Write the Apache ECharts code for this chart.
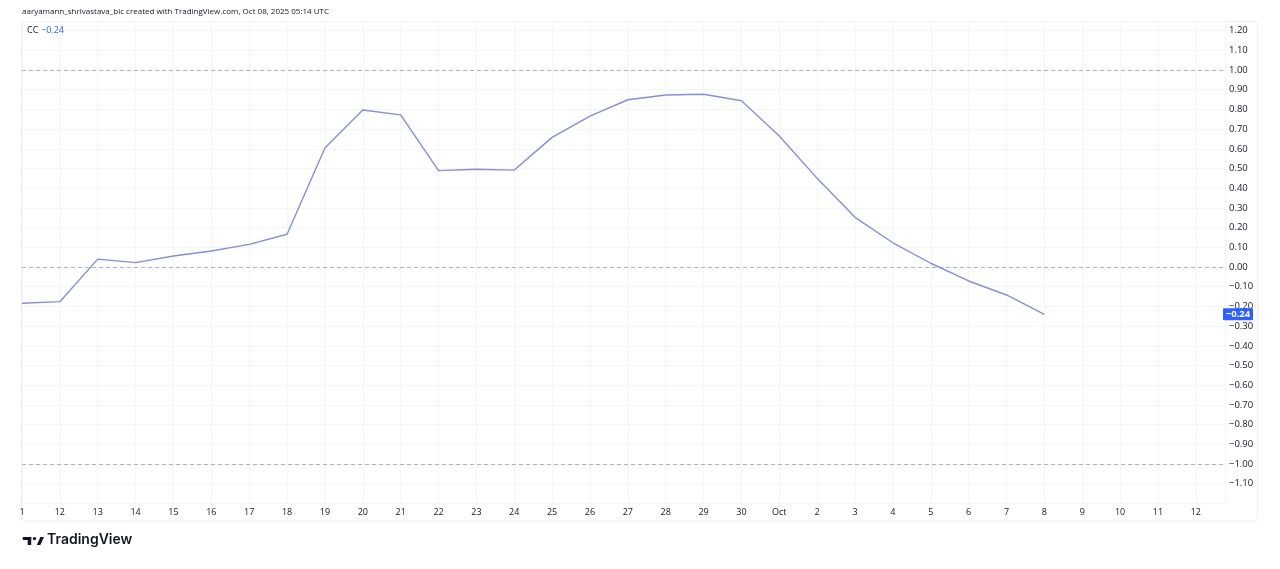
<!DOCTYPE html>
<html><head><meta charset="utf-8">
<script src="https://cdn.jsdelivr.net/npm/echarts@6/dist/echarts.min.js"></script>
<style>html,body{margin:0;padding:0;background:#fff}#c{width:1280px;height:569px}</style>
</head><body><div id="c"></div>
<script>
const categories = ['1','12','13','14','15','16','17','18','19','20','21','22','23','24','25','26','27','28','29','30','Oct','2','3','4','5','6','7','8','9','10','11','12'];
const ccValues = [-0.184,-0.176,0.040,0.022,0.056,0.081,0.115,0.166,0.604,0.797,0.772,0.489,0.496,0.492,0.658,0.766,0.849,0.873,0.877,0.844,0.665,0.450,0.252,0.123,0.019,-0.071,-0.142,-0.240];
const levelLines = [1, 0, -1];
const lastValue = -0.24;
const headerText = 'aaryamann_shrivastava_bic created with TradingView.com, Oct 08, 2025 05:14 UTC';

const fmt = v => (v < 0 ? '\u2212' : '') + Math.abs(v).toFixed(2);

const chart = echarts.init(document.getElementById('c'), null, {renderer: 'canvas'});
const option = {
  backgroundColor: '#ffffff',
  animation: false,
  grid: {left: 22, right: 55, top: 20.75, bottom: 65.6, containLabel: false},
  xAxis: {
    type: 'value', min: 0, max: 31.77, interval: 1,
    axisLine: {show: false}, axisTick: {show: false},
    axisLabel: {
      color: '#131722', fontSize: 9, fontFamily: 'Open Sans', margin: 5,
      showMaxLabel: false,
      formatter: v => (Math.abs(v - Math.round(v)) < 1e-6 && categories[Math.round(v)] !== undefined) ? categories[Math.round(v)] : ''
    },
    splitLine: {show: true, lineStyle: {color: '#f4f5f7', width: 1}}
  },
  yAxis: {
    type: 'value', position: 'right', min: -1.2, max: 1.25, interval: 0.1,
    axisLine: {show: false}, axisTick: {show: false},
    axisLabel: {
      color: '#131722', fontSize: 9.5, fontFamily: 'Open Sans', margin: 4, align: 'left',
      formatter: v => (v < -1.15 || v > 1.21) ? '' : fmt(Math.round(v * 10) / 10)
    },
    splitLine: {show: true, lineStyle: {color: '#f4f5f7', width: 1}}
  },
  series: [{
    type: 'line',
    data: ccValues.map((v, i) => [i, v]),
    showSymbol: false,
    lineStyle: {color: '#8590d4', width: 1.4},
    markLine: {
      silent: true, symbol: 'none', label: {show: false},
      lineStyle: {color: '#b0b3bb', type: [4, 3], width: 1},
      data: levelLines.map(v => ({yAxis: v}))
    },
    z: 5
  }],
  graphic: []
};
chart.setOption(option);

const yPix = chart.convertToPixel({yAxisIndex: 0}, lastValue);
chart.setOption({
  graphic: [
    {type: 'rect', shape: {x: 21.5, y: 21.5, width: 1236, height: 499.5, r: 3}, style: {fill: 'none', stroke: '#eceef2', lineWidth: 1}, silent: true, z: -1},
    {type: 'text', left: 22, top: 8, style: {text: headerText, fill: '#131722', font: '8px "Open Sans"'}},
    {type: 'rect', shape: {x: 25, y: 25, width: 34, height: 12}, style: {fill: '#ffffff'}, z: 9},
    {type: 'text', left: 27, top: 25.5, style: {text: 'CC', fill: '#131722', font: '9px "Open Sans"'}, z: 10},
    {type: 'text', left: 41, top: 25.5, style: {text: fmt(lastValue), fill: '#2962ff', font: '9px "Open Sans"'}, z: 10},
    {type: 'rect', shape: {x: 1223, y: yPix - 6, width: 30, height: 12, r: 1}, style: {fill: '#2962ff'}, z: 20},
    {type: 'text', x: 1238, y: yPix, style: {text: fmt(lastValue), fill: '#ffffff', font: 'bold 9.5px "Open Sans"', textAlign: 'center', textVerticalAlign: 'middle'}, z: 21},
    {type: 'rect', shape: {x: 22.7, y: 537, width: 8.5, height: 3}, style: {fill: '#131722'}},
    {type: 'rect', shape: {x: 27.7, y: 537, width: 3.5, height: 8}, style: {fill: '#131722'}},
    {type: 'circle', shape: {cx: 34.5, cy: 538.6, r: 1.7}, style: {fill: '#131722'}},
    {type: 'polygon', shape: {points: [[36.8, 545], [40.4, 545], [44, 537], [40.4, 537]]}, style: {fill: '#131722'}},
    {type: 'text', left: 47, top: 533, style: {text: 'TradingView', fill: '#131722', font: '600 14px Inter'}}
  ]
});
</script></body></html>
